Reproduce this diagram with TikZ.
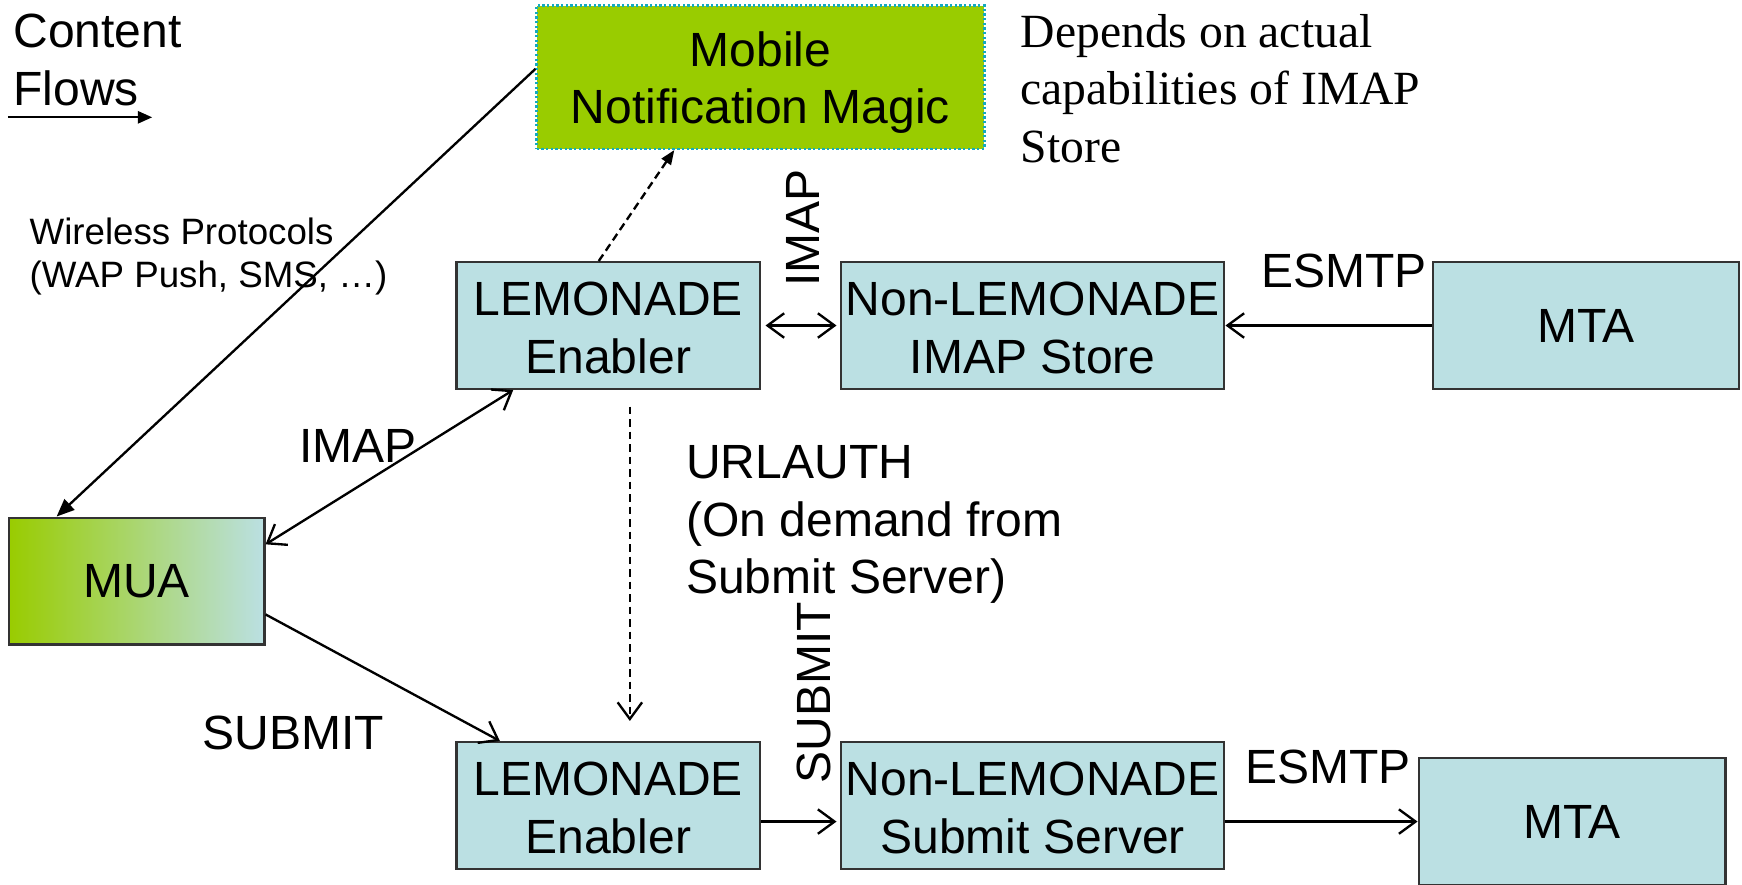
\documentclass[tikz,border=0pt]{standalone}
\usepackage{fontspec}
\setmainfont{Liberation Sans}
\newfontfamily\notefont{Liberation Serif}
\usetikzlibrary{arrows.meta}

\definecolor{boxblue}{RGB}{187,224,227}
\definecolor{magicgreen}{RGB}{153,204,0}
\definecolor{dotteal}{RGB}{20,170,190}

\tikzset{
  >={Straight Barb[length=0.15cm,width=0.22cm]},
  box/.style={draw=black!80, line width=0.6pt, fill=boxblue, align=center,
    inner sep=0pt, minimum height=1.14cm, font=\fontsize{12.3}{14.8}\selectfont},
  lbl/.style={inner sep=0pt, font=\fontsize{12.3}{14.8}\selectfont},
  flow/.style={line width=0.6pt},
  dashline/.style={dash pattern=on 2pt off 1.2pt}
}

\begin{document}
\begin{tikzpicture}
    \useasboundingbox (0,0) rectangle (15.68,7.96);

    % Boxes
    \node[box, minimum width=4.03cm, minimum height=1.29cm, fill=magicgreen,
      draw=dotteal, dash pattern=on 0.6pt off 0.6pt] (magic) at (6.845,7.265) {\rule{0pt}{0.41cm}Mobile\\Notification Magic};
    \node[box, minimum width=2.73cm] (enabA) at (5.475,5.03) {\rule{0pt}{0.35cm}LEMONADE\\Enabler};
    \node[box, minimum width=3.45cm] (store) at (9.295,5.03) {\rule{0pt}{0.35cm}Non-LEMONADE\\IMAP Store};
    \node[box, minimum width=2.75cm] (mtaA) at (14.275,5.03) {MTA};
    \node[box, minimum width=2.30cm, left color=magicgreen, right color=boxblue] (mua) at (1.23,2.73) {MUA};
    \node[box, minimum width=2.73cm] (enabB) at (5.475,0.71) {\rule{0pt}{0.35cm}LEMONADE\\Enabler};
    \node[box, minimum width=3.45cm] (submit) at (9.295,0.71) {\rule{0pt}{0.35cm}Non-LEMONADE\\Submit Server};
    \node[box, minimum width=2.76cm] (mtaB) at (14.15,0.565) {MTA};

    % Labels
    \node[lbl, anchor=north west, align=left] (flows) at (0.115,7.84) {Content\\Flows};
    \node[anchor=north west, align=left, inner sep=0pt,
      font=\notefont\fontsize{12.2}{14.8}\selectfont] (note) at (9.18,7.84) {Depends on actual\\capabilities of IMAP\\Store};
    \node[anchor=north west, align=left, inner sep=0pt,
      font=\fontsize{9.4}{11.1}\selectfont] (wireless) at (0.26,6.01) {Wireless Protocols\\(WAP Push, SMS, …)};
    \node[lbl] (imapA) at (3.225,3.95) {IMAP};
    \node[lbl] (submitA) at (2.64,1.36) {SUBMIT};
    \node[lbl, anchor=north west, align=left] (urlauth) at (6.17,3.96) {URLAUTH\\(On demand from\\Submit Server)};
    \node[lbl, rotate=90] (imapB) at (7.23,5.91) {IMAP};
    \node[lbl, rotate=90] (submitB) at (7.33,1.725) {SUBMIT};
    \node[lbl] (esmtpA) at (12.095,5.525) {ESMTP};
    \node[lbl] (esmtpB) at (11.955,1.06) {ESMTP};

    % Legend arrow
    \coordinate (legA) at (0.07,6.904);
    \coordinate (legB) at (1.37,6.904);
    \draw[flow, -{Triangle[length=0.13cm,width=0.11cm]}] (legA) -- (legB);

    % Arrows
    \draw[flow, -{Triangle[length=0.16cm,width=0.13cm]}] ([yshift=0.075cm]magic.west) -- ([xshift=0.44cm]mua.north west);
    \draw[flow, dashline, -{Triangle[length=0.13cm,width=0.1cm]}] ([xshift=1.29cm]enabA.north west) -- ([xshift=1.25cm]magic.south west);
    \draw[flow, <->] ([yshift=-0.25cm]mua.north east) -- ([xshift=0.52cm]enabA.south west);
    \draw[flow, ->] ([yshift=0.28cm]mua.south east) -- ([xshift=0.40cm]enabB.north west);
    \draw[flow, <->, shorten <=0.04cm, shorten >=0.03cm] (enabA) -- (store);
    \draw[flow, ->] (mtaA) -- (store);
    \draw[flow, dashline, ->, shorten <=0.15cm, shorten >=0.18cm] ([xshift=1.57cm]enabA.south west) -- ([xshift=1.57cm]enabB.north west);
    \draw[flow, ->, shorten >=0.03cm] ([yshift=-0.145cm]enabB.east) -- ([yshift=-0.145cm]submit.west);
    \draw[flow, ->] ([yshift=-0.145cm]submit.east) -- (mtaB.west);
\end{tikzpicture}
\end{document}
